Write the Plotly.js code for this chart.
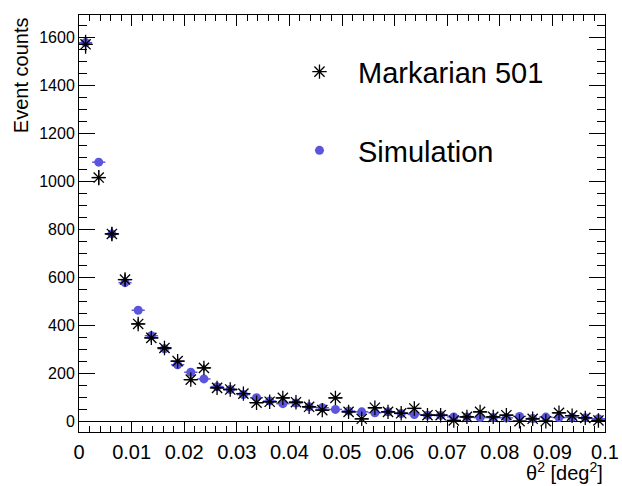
<!DOCTYPE html>
<html>
<head>
<meta charset="utf-8">
<script src="https://cdn.plot.ly/plotly-3.0.1.min.js"></script>
<style>html,body{margin:0;padding:0;background:#fff;}#plot{width:622px;height:486px;}</style>
</head>
<body>
<div id="plot"></div>
<script>
// theta^2 bin centers (bin width 0.0025 deg^2)
const theta2 = [0.00125,0.00375,0.00625,0.00875,0.01125,0.01375,0.01625,0.01875,0.02125,0.02375,
  0.02625,0.02875,0.03125,0.03375,0.03625,0.03875,0.04125,0.04375,0.04625,0.04875,
  0.05125,0.05375,0.05625,0.05875,0.06125,0.06375,0.06625,0.06875,0.07125,0.07375,
  0.07625,0.07875,0.08125,0.08375,0.08625,0.08875,0.09125,0.09375,0.09625,0.09875];
const binHalfWidth = 0.00125;

// Markarian 501 event counts
const mrk501 = [1570,1015,780,590,405,347,305,250,173,222,
  139,132,115,77,81,97,79,60,46,97,
  39,10,56,39,33,53,25,25,3,18,
  39,18,25,0,10,0,35,23,14,3];

// Simulation
const simulation = [1577,1079,780,577,462,356,302,235,204,176,
  144,132,111,98,84,73,76,60,56,49,
  42,39,35,39,32,28,25,24,18,18,
  15,15,14,20,11,17,15,16,14,10];

const mrkErr = mrk501.map(v => Math.sqrt(v));

const blue = '#5a55dc';
const font = 'Liberation Sans, Arial, Helvetica, sans-serif';

const traces = [
  {
    x: theta2, y: simulation, type: 'scatter', mode: 'markers', name: 'Simulation',
    legendgroup: 'sim', legendrank: 2,
    marker: {symbol: 'circle', size: 9, color: blue},
    error_x: {type: 'constant', value: binHalfWidth, width: 0, thickness: 1.5, color: blue},
    cliponaxis: false
  },
  {
    x: theta2, y: mrk501, type: 'scatter', mode: 'markers', name: 'Markarian 501',
    legendgroup: 'mrk', legendrank: 1,
    marker: {symbol: 'asterisk-open', size: 12, color: 'black', line: {color: 'black', width: 1.3}},
    error_x: {type: 'constant', value: binHalfWidth, width: 0, thickness: 1.3, color: 'black'},
    error_y: {type: 'data', array: mrkErr, width: 0, thickness: 1.3, color: 'black'},
    cliponaxis: false
  }
];

const layout = {
  width: 622, height: 486,
  margin: {l: 79, r: 17, t: 15, b: 54},
  paper_bgcolor: 'white', plot_bgcolor: 'white',
  font: {family: font, color: 'black'},
  showlegend: true,
  legend: {
    x: 0.384, y: 0.925, xanchor: 'left', yanchor: 'top',
    font: {size: 29, family: font, color: 'black'},
    bgcolor: 'rgba(0,0,0,0)', borderwidth: 0,
    tracegroupgap: 38, itemwidth: 67
  },
  xaxis: {
    range: [0, 0.1], dtick: 0.01, tick0: 0,
    ticks: 'inside', ticklen: 11, tickwidth: 1, tickcolor: 'black',
    minor: {dtick: 0.002, ticks: 'inside', ticklen: 6, tickcolor: 'black', tickwidth: 1},
    showline: true, linecolor: 'black', linewidth: 1, mirror: 'ticks',
    showgrid: false, zeroline: false,
    tickfont: {size: 20, family: font, color: 'black'},
    ticklabelstandoff: 2
  },
  yaxis: {
    range: [-45, 1692], dtick: 200, tick0: 0,
    ticks: 'inside', ticklen: 16, tickwidth: 1, tickcolor: 'black',
    minor: {dtick: 50, ticks: 'inside', ticklen: 8, tickcolor: 'black', tickwidth: 1},
    showline: true, linecolor: 'black', linewidth: 1, mirror: 'ticks',
    showgrid: false, zeroline: true, zerolinecolor: 'black', zerolinewidth: 1,
    tickfont: {size: 16, family: font, color: 'black'}
  },
  annotations: [
    {text: 'Event counts', xref: 'paper', yref: 'paper', x: -0.11, y: 1,
     xanchor: 'center', yanchor: 'top', textangle: -90, showarrow: false,
     font: {size: 20, family: font, color: 'black'}},
    {text: 'θ<sup>2</sup> [deg<sup>2</sup>]', xref: 'paper', yref: 'paper', x: 1, y: -0.094,
     xanchor: 'right', yanchor: 'middle', showarrow: false,
     font: {size: 20, family: font, color: 'black'}}
  ]
};

Plotly.newPlot('plot', traces, layout, {displayModeBar: false, staticPlot: true});
</script>
</body>
</html>
